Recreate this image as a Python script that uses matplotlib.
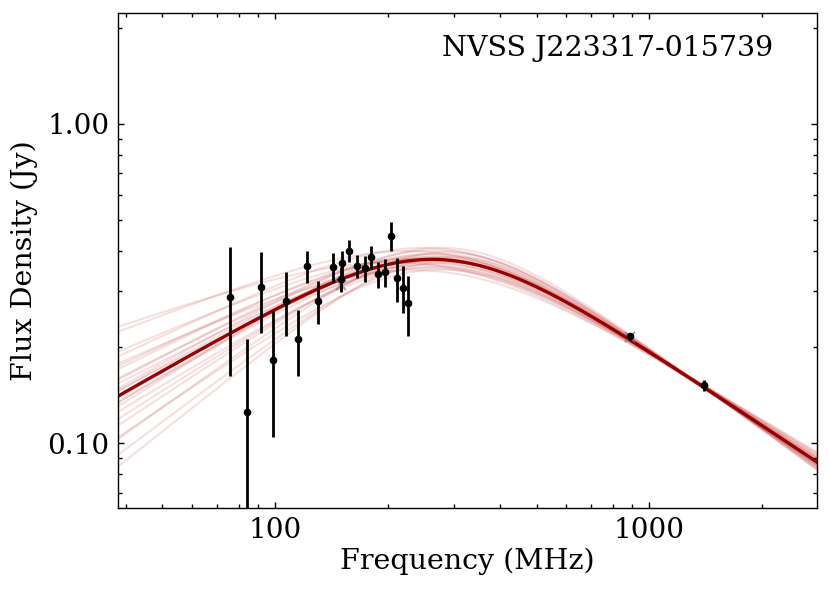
import numpy as np
import matplotlib
matplotlib.use("Agg")
import matplotlib.pyplot as plt
from matplotlib.ticker import FixedLocator, FixedFormatter, NullFormatter, LogLocator

plt.rcParams['font.family'] = ['DejaVu Serif']
plt.rcParams['mathtext.fontset'] = 'dejavuserif'

source_name = "NVSS J223317-015739"

# measured flux densities (MHz, Jy)
freq = [76, 84, 92, 99, 107, 115, 122, 130, 143, 151, 150, 158, 166, 174, 181,
        189, 197, 204, 212, 220, 227, 888, 1400]
flux = [0.288, 0.125, 0.309, 0.182, 0.280, 0.212, 0.359, 0.280, 0.357, 0.366, 0.327,
        0.401, 0.360, 0.353, 0.383, 0.338, 0.343, 0.447, 0.329, 0.307, 0.276,
        0.2163, 0.1519]
flux_err = [0.125, 0.0875, 0.087, 0.077, 0.063, 0.049, 0.042, 0.043, 0.037, 0.035, 0.030,
            0.031, 0.030, 0.032, 0.0315, 0.031, 0.034, 0.046, 0.051, 0.052, 0.059,
            0.005, 0.006]

# grey secondary points
grey_freq = [150, 888]
grey_flux = [0.313, 0.216]
grey_err = [0.012, 0.004]

# best-fit smoothly broken power-law parameters
best_amp = 0.532
best_break = 277.0
best_alpha_low = 0.67
best_alpha_high = -0.78
smooth = 2.0

# posterior sample parameters
samp_alpha_low = [0.40, 0.45, 0.50, 0.52, 0.55, 0.58, 0.60, 0.62, 0.63, 0.65, 0.66, 0.68,
                  0.70, 0.71, 0.73, 0.75, 0.78, 0.80, 0.84, 0.88, 0.93, 0.56, 0.61, 0.69]
samp_alpha_high = [-0.74, -0.82, -0.77, -0.70, -0.85, -0.79, -0.76, -0.81, -0.72, -0.78,
                   -0.84, -0.75, -0.80, -0.73, -0.86, -0.77, -0.79, -0.71, -0.83, -0.76,
                   -0.80, -0.78, -0.74, -0.82]
samp_amp = [0.510, 0.554, 0.527, 0.490, 0.572, 0.538, 0.521, 0.549, 0.500, 0.532,
            0.566, 0.516, 0.543, 0.505, 0.578, 0.527, 0.538, 0.495, 0.561, 0.521,
            0.543, 0.532, 0.510, 0.554]
samp_break = [270, 285, 280, 265, 290, 275, 272, 283, 268, 277, 288, 274, 280, 270, 292,
              276, 279, 266, 286, 273, 281, 278, 271, 284]


def model(nu, amp, nub, a1, a2, s=smooth):
    x = nu / nub
    return amp / (x ** (-a1 * s) + x ** (-a2 * s)) ** (1.0 / s)


fig = plt.figure(figsize=(8.30, 5.91), dpi=100)
ax = fig.add_axes([0.1422, 0.1399, 0.8418, 0.8386])

nu_grid = np.logspace(np.log10(30), np.log10(3500), 400)
for a, nb, l, k in zip(samp_amp, samp_break, samp_alpha_low, samp_alpha_high):
    ax.plot(nu_grid, model(nu_grid, a, nb, l, k), color='#c43c3c', alpha=0.16, lw=1.5, zorder=1)
ax.plot(nu_grid, model(nu_grid, best_amp, best_break, best_alpha_low, best_alpha_high),
        color='#980000', lw=2.4, zorder=2)

ax.errorbar(grey_freq, grey_flux, yerr=grey_err, fmt='x', color='grey', ms=7, mew=1.5,
            elinewidth=1.5, alpha=0.7, zorder=3)
ax.errorbar(freq, flux, yerr=flux_err, fmt='o', color='black', ms=4.5, elinewidth=2.0,
            capsize=0, zorder=4)

ax.set_xscale('log')
ax.set_yscale('log')
ax.set_xlim(38.1, 2800)
ax.set_ylim(0.0626, 2.23)

ax.xaxis.set_major_locator(FixedLocator([100, 1000]))
ax.xaxis.set_major_formatter(FixedFormatter(['100', '1000']))
ax.xaxis.set_minor_locator(LogLocator(base=10, subs=np.arange(2, 10), numticks=20))
ax.xaxis.set_minor_formatter(NullFormatter())
ax.yaxis.set_major_locator(FixedLocator([0.1, 1.0]))
ax.yaxis.set_major_formatter(FixedFormatter(['0.10', '1.00']))
ax.yaxis.set_minor_locator(LogLocator(base=10, subs=np.arange(2, 10), numticks=20))
ax.yaxis.set_minor_formatter(NullFormatter())

ax.tick_params(which='both', direction='in', top=True, right=True, labelsize=20, width=1.0)
ax.tick_params(which='major', length=4.5, pad=6)
ax.tick_params(which='minor', length=3.0)
for sp in ax.spines.values():
    sp.set_linewidth(1.0)

ax.set_xlabel('Frequency (MHz)', fontsize=20.5, labelpad=3)
ax.set_ylabel('Flux Density (Jy)', fontsize=20.5, labelpad=7)
ax.text(0.9375, 0.955, source_name, transform=ax.transAxes, ha='right', va='top', fontsize=20.5)

fig.savefig('out.png', dpi=100)
